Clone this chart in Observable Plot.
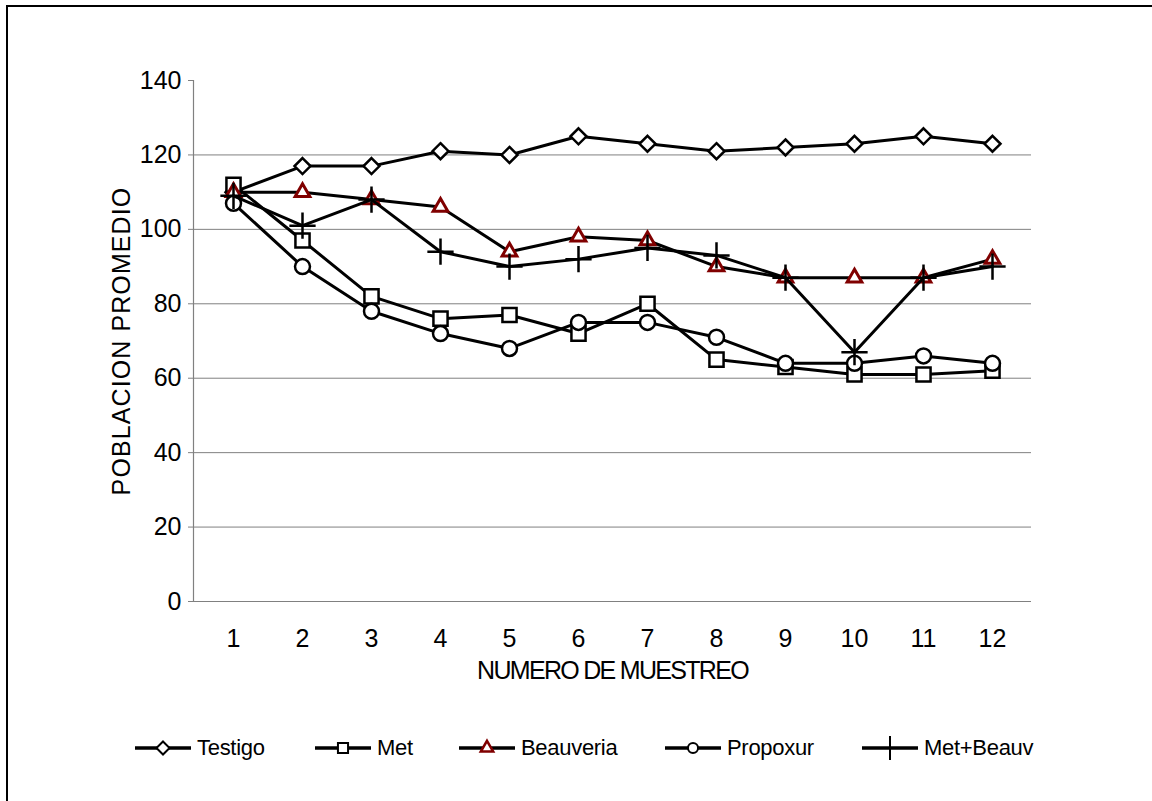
<!DOCTYPE html>
<html>
<head>
<meta charset="utf-8">
<script src="https://cdn.jsdelivr.net/npm/d3@7"></script>
<script src="https://cdn.jsdelivr.net/npm/@observablehq/plot@0.6"></script>
<style>
  html, body { margin: 0; padding: 0; background: #fff; }
  #wrap { position: relative; width: 1152px; height: 801px; overflow: hidden; font-family: "Liberation Sans", Arial, sans-serif; }
  #frame { position: absolute; left: 6px; top: 5px; width: 1300px; height: 900px; border-left: 2px solid #000; border-top: 2px solid #000; pointer-events: none; }
  #chart { position: absolute; left: 0; top: 0; }
  #legend { position: absolute; left: 0; top: 720px; width: 1152px; height: 56px; }
  .item { position: absolute; top: 0; height: 56px; display: flex; align-items: center; }
  .item span { font-size: 22px; color: #000; margin-left: 6px; letter-spacing: -0.3px; }
</style>
</head>
<body>
<div id="wrap">
  <div id="chart"></div>
  <div id="legend"></div>
  <div id="frame"></div>
</div>
<script>
const muestreo = [1, 2, 3, 4, 5, 6, 7, 8, 9, 10, 11, 12];
const series = ["Testigo", "Met", "Beauveria", "Propoxur", "Met+Beauv"];
const testigo   = [110, 117, 117, 121, 120, 125, 123, 121, 122, 123, 125, 123];
const met       = [112,  97,  82,  76,  77,  72,  80,  65,  63,  61,  61,  62];
const beauveria = [110, 110, 108, 106,  94,  98,  97,  90,  87,  87,  87,  92];
const propoxur  = [107,  90,  78,  72,  68,  75,  75,  71,  64,  64,  66,  64];
const metBeauv  = [109, 101, 108,  94,  90,  92,  95,  93,  87,  67,  87,  90];
const yTicks = [0, 20, 40, 60, 80, 100, 120, 140];
const gridTicks = [20, 40, 60, 80, 100, 120];
const xTitle = "NUMERO DE MUESTREO";
const yTitle = "POBLACION PROMEDIO";

const values = [testigo, met, beauveria, propoxur, metBeauv];
const rows = [];
series.forEach((s, i) => muestreo.forEach((m, j) => rows.push({serie: s, muestreo: m, value: values[i][j]})));

const style = {
  Testigo:     {symbol: "diamond2", r: 7.2, stroke: "#000", strokeWidth: 2.5, fill: "#fff"},
  Met:         {symbol: "square2",  r: 9,   stroke: "#000", strokeWidth: 2.5, fill: "#fff"},
  Beauveria:   {symbol: "triangle2",r: 7,   stroke: "#800000", strokeWidth: 3, fill: "#fff"},
  Propoxur:    {symbol: "circle",   r: 7.5, stroke: "#000", strokeWidth: 2.5, fill: "#fff"},
  "Met+Beauv": {symbol: "plus",     r: 8.5, stroke: "#000", strokeWidth: 2.5, fill: "none"}
};

const marks = [
  Plot.gridY(gridTicks, {stroke: "#808080", strokeOpacity: 1, strokeWidth: 1}),
  Plot.ruleY([0], {stroke: "#808080", strokeWidth: 1.2}),
  Plot.frame({anchor: "left", stroke: "#808080", strokeWidth: 1.2}),
  Plot.axisY(yTicks, {tickSize: 5, tickPadding: 7, stroke: "#808080", label: null, fontSize: 25, fill: "#000"}),
  Plot.axisX({tickSize: 0, tickPadding: 28, label: null, fontSize: 25, fill: "#000"}),
  Plot.text([xTitle], {frameAnchor: "bottom", text: d => d, lineAnchor: "middle", textAnchor: "middle", dy: 69, fontSize: 25, fill: "#000"}),
  Plot.text([yTitle], {frameAnchor: "left", text: d => d, rotate: -90, lineAnchor: "middle", textAnchor: "middle", dx: -72, fontSize: 25, fill: "#000"})
];
series.forEach(s => {
  const data = rows.filter(d => d.serie === s);
  marks.push(Plot.line(data, {x: "muestreo", y: "value", stroke: "#000", strokeWidth: 3}));
  const st = style[s];
  marks.push(Plot.dot(data, {x: "muestreo", y: "value", symbol: () => st.symbol, r: st.r, stroke: st.stroke, strokeWidth: st.strokeWidth, fill: st.fill}));
});

const chart = Plot.plot({
  width: 1152,
  height: 720,
  marginLeft: 193,
  marginRight: 121,
  marginTop: 80,
  marginBottom: 119,
  style: {fontFamily: '"Liberation Sans", Arial, sans-serif', background: "transparent", color: "#000"},
  x: {type: "point", domain: muestreo, padding: 0.5},
  y: {domain: [0, 140]},
  symbol: {type: "identity"},
  marks
});
document.getElementById("chart").appendChild(chart);
d3.select(chart).selectAll("text").each(function() {
  const t = this.textContent;
  if (t === xTitle) this.setAttribute("letter-spacing", "-1.7");
  if (t === yTitle) this.setAttribute("letter-spacing", "1.1");
});

// Legend
const legendX = [135, 315, 459, 665, 862];
const legendSym = {
  Testigo: d3.symbolDiamond2, Met: d3.symbolSquare2, Beauveria: d3.symbolTriangle2,
  Propoxur: d3.symbolCircle, "Met+Beauv": d3.symbolPlus
};
const legendSize = {Testigo: 110, Met: 130, Beauveria: 110, Propoxur: 80, "Met+Beauv": 300};
const legend = d3.select("#legend");
series.forEach((s, i) => {
  const item = legend.append("div").attr("class", "item").style("left", legendX[i] + "px");
  const svg = item.append("svg").attr("width", 56).attr("height", 24);
  svg.append("line").attr("x1", 0).attr("x2", 56).attr("y1", 12).attr("y2", 12).attr("stroke", "#000").attr("stroke-width", 3.5);
  const st = style[s];
  svg.append("path").attr("transform", "translate(28,12)")
    .attr("d", d3.symbol(legendSym[s], legendSize[s])())
    .attr("fill", st.fill).attr("stroke", st.stroke).attr("stroke-width", s === "Beauveria" ? 2.5 : 2);
  item.append("span").text(s);
});
</script>
</body>
</html>
